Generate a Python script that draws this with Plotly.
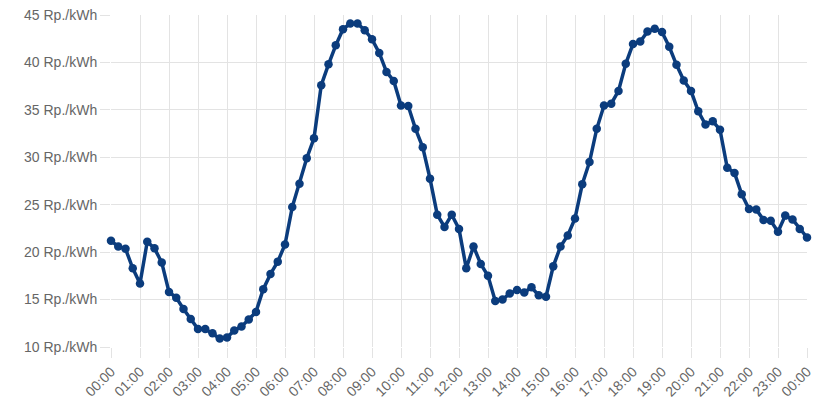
import plotly.graph_objects as go

# Price every 15 minutes from 00:00 to 24:00 (97 values)
prices = [
    21.2, 20.6, 20.35, 18.3, 16.7, 21.1, 20.4, 18.9,        # 00:00-01:45
    15.8, 15.2, 14.0, 12.95, 11.9, 11.9, 11.45, 10.9,       # 02:00-03:45
    11.0, 11.75, 12.15, 12.9, 13.7, 16.1, 17.7, 19.0,       # 04:00-05:45
    20.8, 24.75, 27.2, 29.9, 32.0, 37.6, 39.8, 41.8,        # 06:00-07:45
    43.5, 44.1, 44.1, 43.4, 42.45, 41.0, 39.0, 38.05,       # 08:00-09:45
    35.45, 35.4, 33.0, 31.05, 27.75, 23.95, 22.65, 23.95,   # 10:00-11:45
    22.45, 18.3, 20.6, 18.75, 17.5, 14.85, 15.0, 15.65,     # 12:00-13:45
    16.0, 15.75, 16.3, 15.45, 15.3, 18.5, 20.6, 21.75,      # 14:00-15:45
    23.55, 27.15, 29.5, 33.0, 35.45, 35.65, 37.0, 39.85,    # 16:00-17:45
    41.95, 42.2, 43.25, 43.55, 43.2, 41.65, 39.75, 38.1,    # 18:00-19:45
    37.0, 34.85, 33.45, 33.8, 32.9, 28.9, 28.35, 26.1,      # 20:00-21:45
    24.55, 24.5, 23.4, 23.3, 22.15, 23.85, 23.45, 22.45,    # 22:00-23:45
    21.55,                                                  # 24:00
]
hour_labels = [f"{h % 24:02d}:00" for h in range(25)]
y_ticks = [10, 15, 20, 25, 30, 35, 40, 45]
y_labels = [f"{v} Rp./kWh" for v in y_ticks]

x_hours = [i * 0.25 for i in range(len(prices))]

line_color = "#0b3c7d"
grid_color = "#e3e3e3"
font = dict(family="Liberation Sans, Arial, sans-serif", size=14, color="#666666")

fig = go.Figure(
    go.Scatter(
        x=x_hours,
        y=prices,
        mode="lines+markers",
        line=dict(color=line_color, width=3.5),
        marker=dict(color=line_color, size=8.5),
        hoverinfo="x+y",
        cliponaxis=False,
    )
)

# The page body adds an 8px margin, so the figure is sized to fit the 823x402 window.
fig.update_layout(
    width=815,
    height=394,
    margin=dict(l=103, r=16, t=7, b=55),
    paper_bgcolor="white",
    plot_bgcolor="white",
    showlegend=False,
    font=font,
)
fig.update_xaxes(
    range=[0, 24],
    tickmode="array",
    tickvals=list(range(25)),
    ticktext=hour_labels,
    tickangle=-45,
    showgrid=True,
    gridcolor=grid_color,
    gridwidth=1,
    ticks="outside",
    ticklen=10,
    tickcolor=grid_color,
    zeroline=False,
    showline=False,
    tickfont=font,
    automargin=False,
    ticklabeloverflow="allow",
)
fig.update_yaxes(
    range=[10, 45],
    tickmode="array",
    tickvals=y_ticks,
    ticktext=y_labels,
    showgrid=True,
    gridcolor=grid_color,
    gridwidth=1,
    ticks="outside",
    ticklen=10,
    tickcolor=grid_color,
    zeroline=False,
    showline=False,
    tickfont=font,
    automargin=False,
    ticklabeloverflow="allow",
)

fig.write_html("out.html")
